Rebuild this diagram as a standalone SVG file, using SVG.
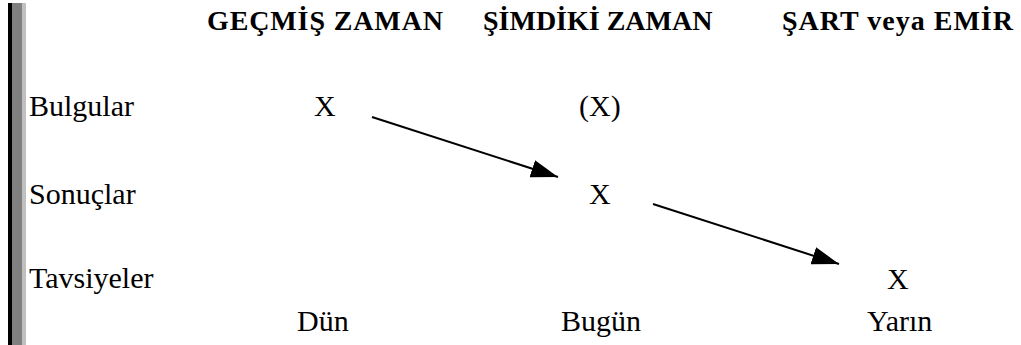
<svg xmlns="http://www.w3.org/2000/svg" width="1021" height="345" viewBox="0 0 1021 345">
<style>
text{font-family:'Liberation Serif','Times New Roman',serif;fill:#000}
.h{font-weight:bold;font-size:28px}
.t{font-size:30px}
.c{stroke:#000;stroke-width:2;fill:none}
</style>
<defs>
<marker id="ah" markerUnits="userSpaceOnUse" markerWidth="28" markerHeight="18" refX="27" refY="9" orient="auto">
<path d="M0,0 L27,9 L0,18 Z" fill="#000"/>
</marker>
</defs>
<rect width="1021" height="345" fill="#fff"/>
<g id="bar">
<rect x="8" y="3" width="4" height="342" fill="#000"/>
<rect x="12" y="3" width="10" height="342" fill="#808080"/>
<rect x="22" y="3" width="4" height="342" fill="#c0c0c0"/>
</g>
<g id="headers">
<text class="h" x="207" y="30" textLength="236">GEÇMİŞ ZAMAN</text>
<text class="h" x="483" y="30">ŞİMDİKİ ZAMAN</text>
<text class="h" x="782" y="30" textLength="231">ŞART veya EMİR</text>
</g>
<g id="rows">
<text class="t" x="29" y="116">Bulgular</text>
<text class="t" x="29" y="204">Sonuçlar</text>
<text class="t" x="29" y="288">Tavsiyeler</text>
</g>
<g id="n-past-bulgular"><text class="t" x="314" y="116">X</text></g>
<g id="n-now-bulgular"><text class="t" x="579" y="116">(X)</text></g>
<g id="n-now-sonuclar"><text class="t" x="589" y="204">X</text></g>
<g id="n-future-tavsiyeler"><text class="t" x="887" y="289">X</text></g>
<g id="times">
<text class="t" x="297" y="331">Dün</text>
<text class="t" x="561" y="331">Bugün</text>
<text class="t" x="867" y="331">Yarın</text>
</g>
<g id="connectors">
<line class="c" x1="372" y1="117" x2="558" y2="177" marker-end="url(#ah)"/>
<line class="c" x1="653" y1="204" x2="839" y2="264" marker-end="url(#ah)"/>
</g>
</svg>
